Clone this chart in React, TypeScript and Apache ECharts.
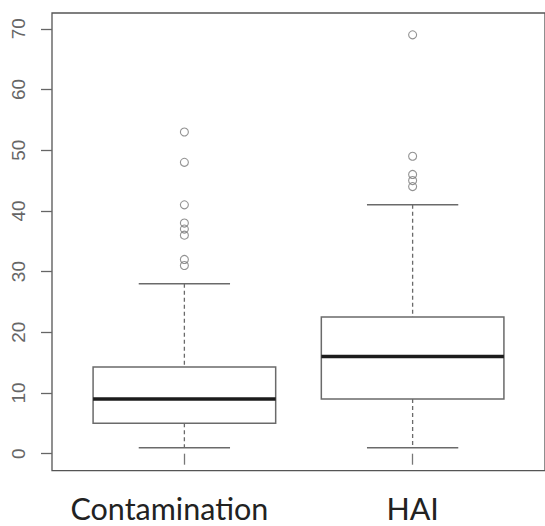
import React, { useEffect, useRef } from "react";
import * as echarts from "echarts";

const categories = ["Contamination", "HAI"];
const whiskerLow = [1, 1];
const q1 = [5, 9];
const median = [9, 16];
const q3 = [14.3, 22.5];
const whiskerHigh = [28, 41];
const contaminationOutliers = [31, 32, 36, 37, 38, 41, 48, 53];
const haiOutliers = [44, 45, 46, 49, 69];
const yTicks = [0, 10, 20, 30, 40, 50, 60, 70];

const LINE = "#6a6a6a";

export default function App() {
  const ref = useRef<HTMLDivElement>(null);
  useEffect(() => {
    if (!ref.current) return;
    const chart = echarts.init(ref.current, null, { renderer: "svg" });
    const boxData = categories.map((_, i) => [
      i + 1,
      whiskerLow[i],
      q1[i],
      median[i],
      q3[i],
      whiskerHigh[i],
    ]);
    const outlierData = [
      ...contaminationOutliers.map((v) => [1, v]),
      ...haiOutliers.map((v) => [2, v]),
    ];
    chart.setOption({
      animation: false,
      backgroundColor: "#ffffff",
      grid: {
        left: 52,
        top: 13,
        width: 496,
        height: 457.7,
        show: true,
        borderColor: "#555",
        borderWidth: 1.3,
        backgroundColor: "transparent",
      },
      xAxis: {
        type: "value",
        min: 0.42,
        max: 2.58,
        splitLine: { show: false },
        axisLine: { show: false },
        axisTick: {
          show: true,
          customValues: [1, 2],
          length: 11,
          lineStyle: { color: "#777", width: 1.3 },
        },
        axisLabel: {
          customValues: [1, 2],
          formatter: (v: number) => {
            const i = Math.round(v) - 1;
            return i === 0 ? "{a|" + categories[0] + "}" : "{b|" + (categories[i] ?? "") + "}";
          },
          rich: {
            a: {
              fontFamily: "Lato, 'Open Sans', sans-serif",
              fontSize: 30.5,
              color: "#222",
              padding: [0, 30, 0, 0],
            },
            b: {
              fontFamily: "Lato, 'Open Sans', sans-serif",
              fontSize: 30.5,
              color: "#222",
            },
          },
          fontFamily: "Lato, 'Open Sans', sans-serif",
          fontSize: 30.5,
          color: "#222",
          margin: 22,
        },
      },
      yAxis: {
        type: "value",
        min: -2.8,
        max: 72.6,
        splitLine: { show: false },
        axisLine: { show: false },
        axisTick: {
          show: true,
          customValues: yTicks,
          length: 11,
          lineStyle: { color: "#666", width: 1.3 },
        },
        axisLabel: {
          customValues: yTicks,
          rotate: 90,
          fontFamily: "'Liberation Sans', Arial, sans-serif",
          fontSize: 19,
          color: "#666",
          margin: 24,
        },
      },
      series: [
        {
          type: "custom",
          data: boxData,
          clip: false,
          encode: { x: 0, y: [1, 2, 3, 4, 5] },
          renderItem: (params: any, api: any) => {
            const x = api.value(0);
            const lo = api.value(1);
            const b1 = api.value(2);
            const md = api.value(3);
            const b3 = api.value(4);
            const hi = api.value(5);
            const hb = 0.4;
            const hc = 0.2;
            const tl = api.coord([x - hb, b3]);
            const br = api.coord([x + hb, b1]);
            const mL = api.coord([x - hb, md]);
            const mR = api.coord([x + hb, md]);
            const c3 = api.coord([x, b3]);
            const cHi = api.coord([x, hi]);
            const c1 = api.coord([x, b1]);
            const cLo = api.coord([x, lo]);
            const hiL = api.coord([x - hc, hi]);
            const hiR = api.coord([x + hc, hi]);
            const loL = api.coord([x - hc, lo]);
            const loR = api.coord([x + hc, lo]);
            const solid = { stroke: LINE, lineWidth: 1.5, fill: "none" };
            const dashed = { stroke: LINE, lineWidth: 1.3, lineDash: [4, 3] };
            return {
              type: "group",
              children: [
                { type: "line", shape: { x1: cHi[0], y1: cHi[1], x2: c3[0], y2: c3[1] }, style: dashed },
                { type: "line", shape: { x1: c1[0], y1: c1[1], x2: cLo[0], y2: cLo[1] }, style: dashed },
                { type: "line", shape: { x1: hiL[0], y1: hiL[1], x2: hiR[0], y2: hiR[1] }, style: solid },
                { type: "line", shape: { x1: loL[0], y1: loL[1], x2: loR[0], y2: loR[1] }, style: solid },
                {
                  type: "rect",
                  shape: { x: tl[0], y: tl[1], width: br[0] - tl[0], height: br[1] - tl[1] },
                  style: { stroke: LINE, lineWidth: 1.5, fill: "#ffffff" },
                },
                {
                  type: "line",
                  shape: { x1: mL[0], y1: mL[1], x2: mR[0], y2: mR[1] },
                  style: { stroke: "#1c1c1c", lineWidth: 3.5 },
                },
              ],
            };
          },
        },
        {
          type: "scatter",
          data: outlierData,
          symbol: "circle",
          symbolSize: 8,
          itemStyle: { color: "rgba(255,255,255,0)", borderColor: "#777", borderWidth: 1.1 },
        },
      ],
    });
    return () => chart.dispose();
  }, []);
  return (
    <div
      ref={ref}
      style={{ position: "absolute", left: 0, top: 0, width: 545, height: 526 }}
    />
  );
}
